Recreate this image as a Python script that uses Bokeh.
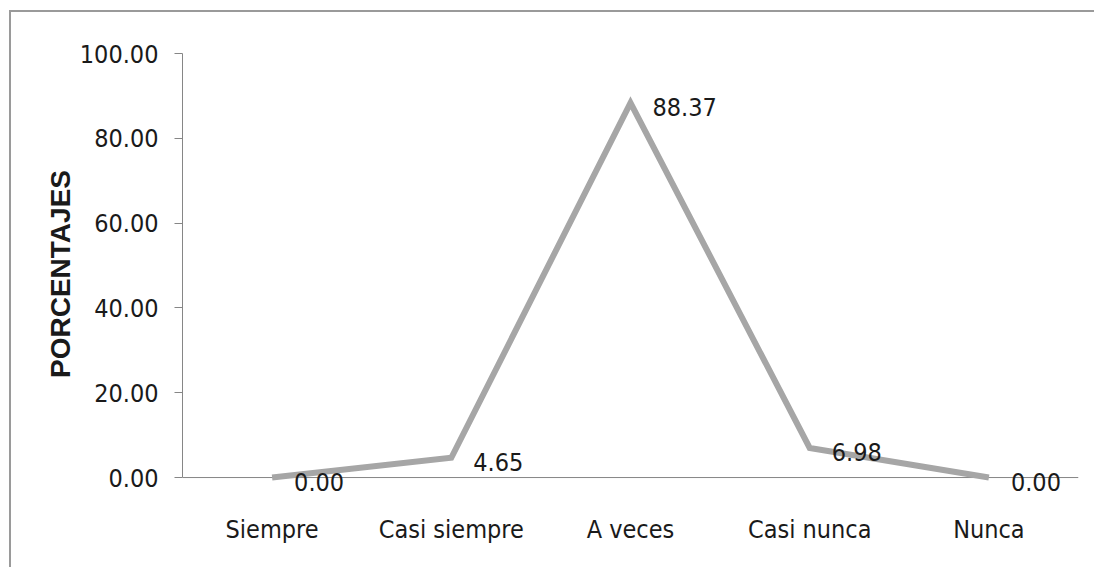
from bokeh.plotting import figure
from bokeh.models import Range1d, FactorRange, ColumnDataSource, LabelSet, Span
from bokeh.core.properties import value
from bokeh.embed import file_html
from bokeh.resources import INLINE

categories = ["Siempre", "Casi siempre", "A veces", "Casi nunca", "Nunca"]
percentages = [0.00, 4.65, 88.37, 6.98, 0.00]
y_ticks = [0, 20, 40, 60, 80, 100]
y_tick_labels = {t: f"{t:.2f}" for t in y_ticks}

FONT = "'DejaVu Sans Condensed', 'Liberation Sans', sans-serif"
TXT = "#1a1a1a"
AXC = "#868686"

src = ColumnDataSource(dict(
    x=categories,
    y=percentages,
    label=[f"{v:.2f}" for v in percentages],
))

p = figure(
    width=1085, height=557,
    x_range=FactorRange(*categories, range_padding=0),
    y_range=Range1d(-4, 100),
    output_backend="svg", toolbar_location=None,
    min_border_left=171, min_border_top=41, min_border_right=18, min_border_bottom=75,
)
p.margin = (10, 0, 0, 9)
p.styles = {"border-top": "2px solid #9a9a9a", "border-left": "2px solid #9a9a9a"}

p.outline_line_color = None
p.xgrid.grid_line_color = None
p.ygrid.grid_line_color = None

# horizontal axis line at zero
p.add_layout(Span(location=0, dimension="width", line_color=AXC, line_width=1, level="underlay"))

p.line("x", "y", source=src, line_color="#a6a6a6", line_width=6, line_join="miter")
labels = LabelSet(x="x", y="y", text="label", source=src, x_offset=22, y_offset=-4,
                  text_baseline="middle", text_align="left",
                  text_font=value(FONT), text_font_size="25px", text_color=TXT,
                  level="overlay")
p.add_layout(labels)

ya = p.yaxis[0]
ya.ticker = y_ticks
ya.bounds = (0, 100)
ya.major_label_overrides = y_tick_labels
ya.major_label_text_font = FONT
ya.major_label_text_font_size = "25px"
ya.major_label_text_color = TXT
ya.major_tick_out = 8
ya.major_tick_in = 0
ya.minor_tick_out = 0
ya.minor_tick_in = 0
ya.major_tick_line_color = AXC
ya.axis_line_color = AXC
ya.major_label_standoff = 16
ya.axis_label = "PORCENTAJES"
ya.axis_label_text_font = "'Liberation Sans', Arial, sans-serif"
ya.axis_label_text_font_style = "bold"
ya.axis_label_text_font_size = "28px"
ya.axis_label_text_color = TXT
ya.axis_label_standoff = 1

xa = p.xaxis[0]
xa.major_tick_out = 0
xa.major_tick_in = 0
xa.axis_line_color = None
xa.major_label_text_font = FONT
xa.major_label_text_font_size = "25px"
xa.major_label_text_color = TXT
xa.major_label_standoff = 20

open("out.html", "w").write(file_html(p, INLINE))
